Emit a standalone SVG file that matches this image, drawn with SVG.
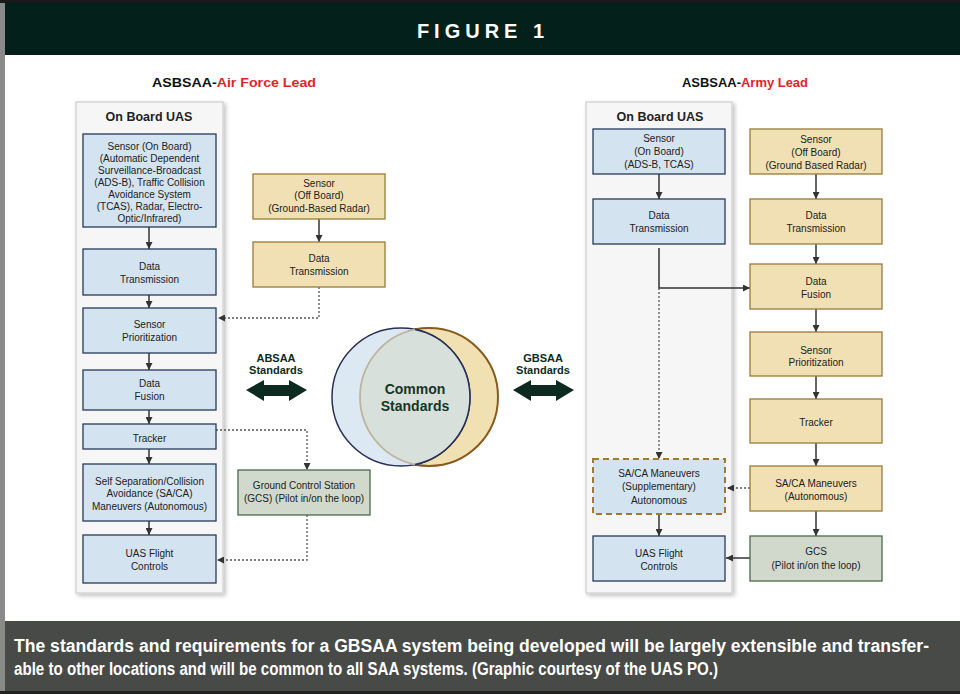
<svg xmlns="http://www.w3.org/2000/svg" width="960" height="694" viewBox="0 0 960 694">
<style>
.t{font-family:"Liberation Sans",Arial,sans-serif;font-size:10px;fill:#222;text-anchor:middle}
.h{font-family:"Liberation Sans",Arial,sans-serif;font-size:12.5px;font-weight:bold;fill:#222;text-anchor:middle}
.s{font-family:"Liberation Sans",Arial,sans-serif;font-size:11px;font-weight:bold;fill:#0d2a20;text-anchor:middle}
.blue{fill:#d3e3ef;stroke:#253a5a;stroke-width:1.3}
.tan{fill:#f0e0b4;stroke:#9a7a3a;stroke-width:1.3}
.gcs{fill:#d0d9cc;stroke:#4a6a4a;stroke-width:1.3}
.panel{fill:#f6f6f6;stroke:#d6d6d6;stroke-width:1.5}
.solid{fill:none;stroke:#333;stroke-width:1.5}
.dot{fill:none;stroke:#555;stroke-width:1.3;stroke-dasharray:2,2}
.cap{font-family:"Liberation Sans",Arial,sans-serif;font-size:17.5px;font-weight:bold;fill:#fff}
.lead{font-family:"Liberation Sans",Arial,sans-serif;font-size:13px;font-weight:bold;fill:#111}
</style>
<defs>
<marker id="ah" markerUnits="userSpaceOnUse" markerWidth="8" markerHeight="7" refX="7" refY="3.5" orient="auto">
<path d="M0,0 L7,3.5 L0,7 z" fill="#333"/>
</marker>
<filter id="sh" x="-10%" y="-5%" width="125%" height="115%">
<feDropShadow dx="2" dy="2" stdDeviation="2" flood-color="#000" flood-opacity="0.25"/>
</filter>
</defs>
<rect x="0" y="0" width="960" height="694" fill="#fff"/>
<rect x="0" y="0" width="5" height="694" fill="#8a8a8a"/>
<rect x="0" y="0" width="960" height="3" fill="#1a1a1a"/>
<rect x="5" y="3" width="955" height="52" fill="#03211a"/>
<text x="483" y="38" style="font-family:'Liberation Sans',Arial,sans-serif;font-size:20px;font-weight:bold;fill:#fff;text-anchor:middle;letter-spacing:5px">FIGURE 1</text>

<text class="lead" x="152" y="87" textLength="164" lengthAdjust="spacingAndGlyphs">ASBSAA-<tspan fill="#e3222b">Air Force Lead</tspan></text>
<text class="lead" x="682" y="87" textLength="126" lengthAdjust="spacingAndGlyphs">ASBSAA-<tspan fill="#e3222b">Army Lead</tspan></text>

<g id="left-panel">
<rect class="panel" x="76" y="102" width="147" height="491" filter="url(#sh)"/>
<text class="h" x="149" y="121">On Board UAS</text>
</g>
<g id="right-panel">
<rect class="panel" x="586" y="102" width="146" height="491" filter="url(#sh)"/>
<text class="h" x="660" y="121">On Board UAS</text>
</g>

<g id="connectors">
<line class="solid" x1="149" y1="227" x2="149" y2="249" marker-end="url(#ah)"/>
<line class="solid" x1="149" y1="295" x2="149" y2="308" marker-end="url(#ah)"/>
<line class="solid" x1="149" y1="353" x2="149" y2="370" marker-end="url(#ah)"/>
<line class="solid" x1="149" y1="410" x2="149" y2="424" marker-end="url(#ah)"/>
<line class="solid" x1="149" y1="449" x2="149" y2="464" marker-end="url(#ah)"/>
<line class="solid" x1="149" y1="521" x2="149" y2="535" marker-end="url(#ah)"/>
<line class="solid" x1="319" y1="219" x2="319" y2="242" marker-end="url(#ah)"/>
<polyline class="dot" points="319,287 319,318 218,318" marker-end="url(#ah)"/>
<polyline class="dot" points="216,430 307,430 307,470" marker-end="url(#ah)"/>
<polyline class="dot" points="307,515 307,560 217,560" marker-end="url(#ah)"/>

<line class="solid" x1="659" y1="174" x2="659" y2="199" marker-end="url(#ah)"/>
<polyline class="solid" points="659,248 659,288 750,288" marker-end="url(#ah)"/>
<line class="dot" x1="659" y1="288" x2="659" y2="459" marker-end="url(#ah)"/>
<line class="solid" x1="659" y1="514" x2="659" y2="536" marker-end="url(#ah)"/>
<line class="solid" x1="816" y1="174" x2="816" y2="199" marker-end="url(#ah)"/>
<line class="solid" x1="816" y1="244" x2="816" y2="264" marker-end="url(#ah)"/>
<line class="solid" x1="816" y1="309" x2="816" y2="332" marker-end="url(#ah)"/>
<line class="solid" x1="816" y1="376" x2="816" y2="399" marker-end="url(#ah)"/>
<line class="solid" x1="816" y1="443" x2="816" y2="466" marker-end="url(#ah)"/>
<line class="solid" x1="816" y1="511" x2="816" y2="536" marker-end="url(#ah)"/>
<line class="dot" x1="750" y1="488" x2="727" y2="488" marker-end="url(#ah)"/>
<line class="solid" x1="750" y1="558" x2="726" y2="558" marker-end="url(#ah)"/>
</g>

<g id="l-sensor">
<rect class="blue" x="83" y="134" width="133" height="93"/>
<text class="t" x="149.5" y="150">Sensor (On Board)</text>
<text class="t" x="149.5" y="162">(Automatic Dependent</text>
<text class="t" x="149.5" y="174">Surveillance-Broadcast</text>
<text class="t" x="149.5" y="186">(ADS-B), Traffic Collision</text>
<text class="t" x="149.5" y="198">Avoidance System</text>
<text class="t" x="149.5" y="210">(TCAS), Radar, Electro-</text>
<text class="t" x="149.5" y="222">Optic/Infrared)</text>
</g>
<g id="l-datatx">
<rect class="blue" x="83" y="249" width="133" height="46"/>
<text class="t" x="149.5" y="270">Data</text>
<text class="t" x="149.5" y="283">Transmission</text>
</g>
<g id="l-prior">
<rect class="blue" x="83" y="308" width="133" height="45"/>
<text class="t" x="149.5" y="328">Sensor</text>
<text class="t" x="149.5" y="341">Prioritization</text>
</g>
<g id="l-fusion">
<rect class="blue" x="83" y="370" width="133" height="40"/>
<text class="t" x="149.5" y="387">Data</text>
<text class="t" x="149.5" y="400">Fusion</text>
</g>
<g id="l-tracker">
<rect class="blue" x="83" y="424" width="133" height="25"/>
<text class="t" x="149.5" y="442">Tracker</text>
</g>
<g id="l-saca">
<rect class="blue" x="83" y="464" width="133" height="57"/>
<text class="t" x="149.5" y="485">Self Separation/Collision</text>
<text class="t" x="149.5" y="497">Avoidance (SA/CA)</text>
<text class="t" x="149.5" y="510">Maneuvers (Autonomous)</text>
</g>
<g id="l-flight">
<rect class="blue" x="83" y="535" width="133" height="48"/>
<text class="t" x="149.5" y="557">UAS Flight</text>
<text class="t" x="149.5" y="570">Controls</text>
</g>
<g id="l-offsensor">
<rect class="tan" x="253" y="174" width="132" height="45"/>
<text class="t" x="319" y="187">Sensor</text>
<text class="t" x="319" y="199">(Off Board)</text>
<text class="t" x="319" y="212">(Ground-Based Radar)</text>
</g>
<g id="l-offdatatx">
<rect class="tan" x="253" y="242" width="132" height="45"/>
<text class="t" x="319" y="262">Data</text>
<text class="t" x="319" y="275">Transmission</text>
</g>
<g id="l-gcs">
<rect class="gcs" x="238" y="470" width="132" height="45"/>
<text class="t" x="304" y="489">Ground Control Station</text>
<text class="t" x="304" y="502">(GCS) (Pilot in/on the loop)</text>
</g>

<g id="absaa">
<text class="s" x="276" y="362">ABSAA</text>
<text class="s" x="276" y="374">Standards</text>
<polygon fill="#0d2a20" points="246,390 264,380 264,385 289,385 289,380 307,390 289,401 289,396 264,396 264,401"/>
</g>
<g id="gbsaa">
<text class="s" x="543" y="362">GBSAA</text>
<text class="s" x="543" y="374">Standards</text>
<polygon fill="#0d2a20" points="513,390 531,380 531,385 556,385 556,380 574,390 556,401 556,396 531,396 531,401"/>
</g>

<g id="venn">
<circle cx="429" cy="397" r="69" fill="#f0e0b2" stroke="#8a5a1c" stroke-width="2"/>
<circle cx="401" cy="397" r="69" fill="#dce9f3" stroke="#2a2f55" stroke-width="1.5"/>
<path d="M415,329.44 A69,69 0 0,1 415,464.56 A69,69 0 0,1 415,329.44 z" fill="#d8e0dc" stroke="none"/>
<path d="M415,464.56 A69,69 0 0,1 415,329.44" fill="none" stroke="#bcb49c" stroke-width="1.8"/>
<path d="M415,329.44 A69,69 0 0,1 415,464.56" fill="none" stroke="#2a2f55" stroke-width="1.5"/>
<text x="415" y="394" style="font-family:'Liberation Sans',Arial,sans-serif;font-size:14px;font-weight:bold;fill:#143626;text-anchor:middle">Common</text>
<text x="415" y="411" style="font-family:'Liberation Sans',Arial,sans-serif;font-size:14px;font-weight:bold;fill:#143626;text-anchor:middle">Standards</text>
</g>

<g id="r-sensor">
<rect class="blue" x="593" y="129" width="132" height="45"/>
<text class="t" x="659" y="142">Sensor</text>
<text class="t" x="659" y="155">(On Board)</text>
<text class="t" x="659" y="168">(ADS-B, TCAS)</text>
</g>
<g id="r-datatx">
<rect class="blue" x="593" y="199" width="132" height="45"/>
<text class="t" x="659" y="219">Data</text>
<text class="t" x="659" y="232">Transmission</text>
</g>
<g id="r-saca-supp">
<rect x="593" y="459" width="132" height="55" fill="#d3e3ef" stroke="#a07a30" stroke-width="2" stroke-dasharray="6,4"/>
<text class="t" x="659" y="477">SA/CA Maneuvers</text>
<text class="t" x="659" y="490">(Supplementary)</text>
<text class="t" x="659" y="504">Autonomous</text>
</g>
<g id="r-flight">
<rect class="blue" x="593" y="536" width="132" height="45"/>
<text class="t" x="659" y="557">UAS Flight</text>
<text class="t" x="659" y="570">Controls</text>
</g>
<g id="r-offsensor">
<rect class="tan" x="750" y="129" width="132" height="45"/>
<text class="t" x="816" y="143">Sensor</text>
<text class="t" x="816" y="156">(Off Board)</text>
<text class="t" x="816" y="169">(Ground Based Radar)</text>
</g>
<g id="r-offdatatx">
<rect class="tan" x="750" y="199" width="132" height="45"/>
<text class="t" x="816" y="219">Data</text>
<text class="t" x="816" y="232">Transmission</text>
</g>
<g id="r-fusion">
<rect class="tan" x="750" y="264" width="132" height="45"/>
<text class="t" x="816" y="285">Data</text>
<text class="t" x="816" y="298">Fusion</text>
</g>
<g id="r-prior">
<rect class="tan" x="750" y="332" width="132" height="44"/>
<text class="t" x="816" y="354">Sensor</text>
<text class="t" x="816" y="366">Prioritization</text>
</g>
<g id="r-tracker">
<rect class="tan" x="750" y="399" width="132" height="44"/>
<text class="t" x="816" y="426">Tracker</text>
</g>
<g id="r-saca">
<rect class="tan" x="750" y="466" width="132" height="45"/>
<text class="t" x="816" y="487">SA/CA Maneuvers</text>
<text class="t" x="816" y="500">(Autonomous)</text>
</g>
<g id="r-gcs">
<rect class="gcs" x="750" y="536" width="132" height="45"/>
<text class="t" x="816" y="555">GCS</text>
<text class="t" x="816" y="569">(Pilot in/on the loop)</text>
</g>

<rect x="5" y="621" width="955" height="70" fill="#474a47"/>
<rect x="0" y="691" width="960" height="3" fill="#222"/>
<text class="cap" x="14" y="652" textLength="915" lengthAdjust="spacingAndGlyphs">The standards and requirements for a GBSAA system being developed will be largely extensible and transfer-</text>
<text class="cap" x="14" y="675" textLength="704" lengthAdjust="spacingAndGlyphs">able to other locations and will be common to all SAA systems. (Graphic courtesy of the UAS PO.)</text>
</svg>
